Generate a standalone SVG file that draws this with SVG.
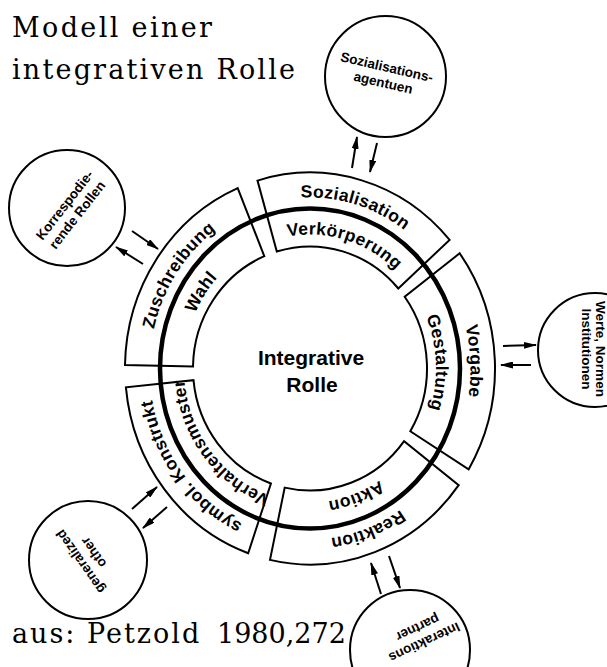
<svg xmlns="http://www.w3.org/2000/svg" width="607" height="667" viewBox="0 0 607 667">
<defs>
<style>
.box{fill:none;stroke:#000;stroke-width:2}
.ring{fill:none;stroke:#000;stroke-width:4.5}
.circ{fill:none;stroke:#000;stroke-width:2}
.lbl{font-family:"Liberation Sans",Arial,sans-serif;font-weight:bold;font-size:17.5px;letter-spacing:0.3px;fill:#000;text-anchor:middle}
.sm{font-family:"Liberation Sans",Arial,sans-serif;font-weight:bold;font-size:13.5px;fill:#000;text-anchor:middle}
.ctr{font-family:"Liberation Sans",Arial,sans-serif;font-weight:bold;font-size:21px;fill:#000;text-anchor:middle}
.frak{font-family:"DejaVu Serif","Liberation Serif",serif;font-size:27px;fill:#000}
.arr{fill:none;stroke:#000;stroke-width:2;marker-end:url(#ah)}
</style>
<marker id="ah" markerUnits="userSpaceOnUse" markerWidth="13" markerHeight="7" viewBox="0 0 13 7" refX="12" refY="3.5" orient="auto"><path d="M0,0 L13,3.5 L0,7 Z" fill="#000"/></marker>
<path id="tp-top-o" d="M264.4,204.5 A160.5,171 0 0 1 431.1,256.3"/>
<path id="tp-top-i" d="M274.2,240.0 A126,134 0 0 1 405.1,280.6"/>
<path id="tp-ul-o" d="M149.5,365.5 A160.5,171 0 0 1 247.3,211.1"/>
<path id="tp-ul-i" d="M184.0,366.2 A126,134 0 0 1 260.8,245.2"/>
<path id="tp-ll-o" d="M256.4,529.7 A160.5,171 0 0 1 150.2,384.9"/>
<path id="tp-ll-i" d="M267.9,494.8 A126,134 0 0 1 184.6,381.3"/>
<path id="tp-bt-o" d="M439.0,470.2 A160.5,171 0 0 1 275.3,535.4"/>
<path id="tp-bt-i" d="M411.3,448.2 A126,134 0 0 1 282.7,499.3"/>
<path id="tp-rt-o" d="M439.8,268.0 A160.5,171 0 0 1 447.6,456.6"/>
<path id="tp-rt-i" d="M411.9,289.7 A126,134 0 0 1 418.0,437.5"/>
</defs>
<rect width="607" height="667" fill="#fff"/>

<g id="title">
<text class="frak" x="12" y="37" textLength="200">Modell einer</text>
<text class="frak" x="12" y="79" textLength="283">integrativen Rolle</text>
</g>

<g id="seg-top">
<path class="box" d="M257.5,180.6 A185,196 0 0 1 449.6,239.9 L398.3,288.5 A117,122 0 0 0 276.8,251.5 Z"/>
<text class="lbl"><textPath href="#tp-top-o" startOffset="50%">Sozialisation</textPath></text>
<text class="lbl"><textPath href="#tp-top-i" startOffset="50%">Verkörperung</textPath></text>
</g>
<g id="seg-upperleft">
<path class="box" d="M125.0,365.1 A185,196 0 0 1 237.7,188.1 L264.3,256.2 A117,122 0 0 0 193.0,366.4 Z"/>
<text class="lbl"><textPath href="#tp-ul-o" startOffset="50%">Zuschreibung</textPath></text>
<text class="lbl"><textPath href="#tp-ul-i" startOffset="50%">Wahl</textPath></text>
</g>
<g id="seg-lowerleft">
<path class="box" d="M248.2,553.2 A185,196 0 0 1 125.9,387.3 L193.5,380.2 A117,122 0 0 0 270.9,483.5 Z"/>
<text class="lbl"><textPath href="#tp-ll-o" startOffset="50%">symbol. Konstrukt</textPath></text>
<text class="lbl"><textPath href="#tp-ll-i" startOffset="50%">Verhaltensmuster</textPath></text>
</g>
<g id="seg-bottom">
<path class="box" d="M458.7,485.1 A185,196 0 0 1 270.0,559.9 L284.7,487.6 A117,122 0 0 0 404.1,441.1 Z"/>
<text class="lbl"><textPath href="#tp-bt-o" startOffset="50%">Reaktion</textPath></text>
<text class="lbl"><textPath href="#tp-bt-i" startOffset="50%">Aktion</textPath></text>
</g>
<g id="seg-right">
<path class="box" d="M459.7,253.3 A185,196 0 0 1 468.6,469.4 L410.3,431.3 A117,122 0 0 0 404.7,296.8 Z"/>
<text class="lbl"><textPath href="#tp-rt-o" startOffset="50%">Vorgabe</textPath></text>
<text class="lbl"><textPath href="#tp-rt-i" startOffset="50%">Gestaltung</textPath></text>
</g>

<g id="ring"><ellipse class="ring" cx="310" cy="368.5" rx="150" ry="160"/></g>

<g id="center">
<text class="ctr" x="311" y="365">Integrative</text>
<text class="ctr" x="312" y="392">Rolle</text>
</g>

<g id="c-agenturen">
<circle class="circ" cx="385.5" cy="76.5" r="60.5"/>
<g transform="translate(385,75) rotate(13)">
<text class="sm" x="0" y="-3.5">Sozialisations-</text>
<text class="sm" x="0" y="12.5">agentuen</text>
</g>
</g>
<g id="c-korrespondierend">
<circle class="circ" cx="67" cy="208" r="58"/>
<g transform="translate(71,210) rotate(-52)">
<text class="sm" x="0" y="-3.5">Korrespodie-</text>
<text class="sm" x="0" y="12.5">rende Rollen</text>
</g>
</g>
<g id="c-werte">
<circle class="circ" cx="595" cy="350" r="57"/>
<g transform="translate(593,349) rotate(90)">
<text class="sm" x="0" y="-2.5">Werte, Normen</text>
<text class="sm" x="0" y="11.5">Institutionen</text>
</g>
</g>
<g id="c-generalized">
<circle class="circ" cx="88" cy="560" r="59"/>
<g transform="translate(87,557) rotate(-125)">
<text class="sm" x="0" y="-3.5">generalized</text>
<text class="sm" x="0" y="12.5">other</text>
</g>
</g>
<g id="c-interaktion">
<circle class="circ" cx="410" cy="650" r="60"/>
<g transform="translate(421,635) rotate(155)">
<text class="sm" x="0" y="-3.5">Interaktions</text>
<text class="sm" x="0" y="12.5">partner</text>
</g>
</g>

<g id="connectors">
<line class="arr" x1="352" y1="168" x2="357" y2="137"/>
<line class="arr" x1="377" y1="143" x2="370" y2="172"/>
<line class="arr" x1="132" y1="231" x2="158" y2="249"/>
<line class="arr" x1="143" y1="264" x2="116" y2="247"/>
<line class="arr" x1="503" y1="346" x2="536" y2="345"/>
<line class="arr" x1="531" y1="365" x2="501" y2="365"/>
<line class="arr" x1="132" y1="509" x2="157" y2="487"/>
<line class="arr" x1="167" y1="507" x2="143" y2="528"/>
<line class="arr" x1="381" y1="594" x2="371" y2="563"/>
<line class="arr" x1="389" y1="556" x2="400" y2="588"/>
</g>

<g id="source">
<text class="frak" x="12" y="643"><tspan letter-spacing="2">aus: Petzold</tspan><tspan x="217">1980,272</tspan></text>
</g>
</svg>
